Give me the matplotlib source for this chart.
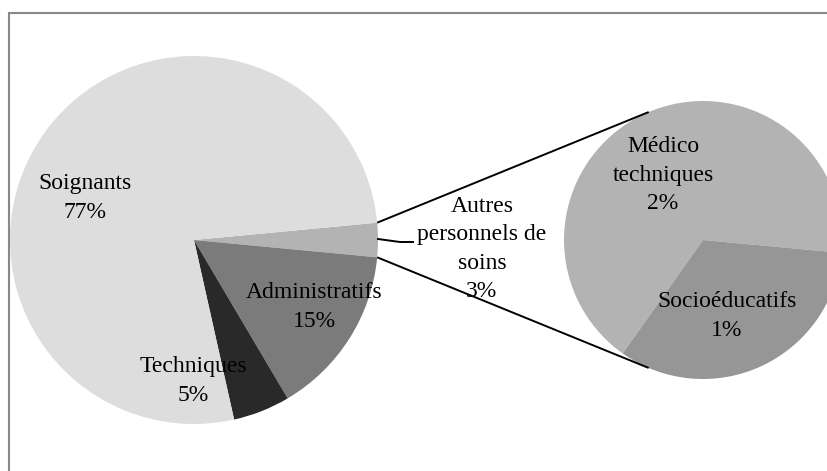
import matplotlib.pyplot as plt
import numpy as np
from matplotlib.patches import Rectangle

# main pie: job categories (share of staff, %)
main_labels = ["Autres\npersonnels de\nsoins", "Administratifs", "Techniques", "Soignants"]
main_values = [3, 15, 5, 77]
main_colors = ["#b3b3b3", "#7b7b7b", "#292929", "#dddddd"]

# secondary pie: breakdown of "Autres personnels de soins"
sub_labels = ["Médico\ntechniques", "Socioéducatifs"]
sub_values = [2, 1]
sub_colors = ["#b3b3b3", "#969696"]

W, H = 828, 471
plt.rcParams["font.family"] = ["Liberation Serif", "DejaVu Serif"]

fig = plt.figure(figsize=(W / 100, H / 100), dpi=100)
ax = fig.add_axes([0, 0, 1, 1])

c1, r1 = (194, H - 240), 184
c2, r2 = (703, H - 240), 139

# the "autres" slice is centred on the right-hand side
half = main_values[0] / sum(main_values) * 360 / 2
w1, _ = ax.pie(main_values, colors=main_colors, startangle=half,
               counterclock=False, center=c1, radius=r1,
               wedgeprops=dict(linewidth=0))

medico_share = sub_values[0] / sum(sub_values) * 360
w2, _ = ax.pie(sub_values, colors=sub_colors, startangle=-5.3 + medico_share,
               counterclock=False, center=c2, radius=r2,
               wedgeprops=dict(linewidth=0))

# connector lines between the two pies
a_link = np.deg2rad(113)
for s in (1, -1):
    p1 = (c1[0] + r1 * np.cos(np.deg2rad(half)), c1[1] + s * r1 * np.sin(np.deg2rad(half)))
    p2 = (c2[0] + r2 * np.cos(a_link), c2[1] + s * r2 * np.sin(a_link))
    ax.plot([p1[0], p2[0]], [p1[1], p2[1]], color="black", lw=1.4,
            solid_capstyle="butt")

# leader line for the "autres" label
ax.plot([c1[0] + r1, 400, 413], [H - 239, H - 242, H - 242], color="black", lw=1.4)

fs = 17
ls = 1.45
txt = dict(ha="center", va="center", fontsize=fs, linespacing=ls)
main_pos = [(482, 249), (314, 307), (193, 381), (85, 198)]
for lab, v, (x, y) in zip(main_labels, main_values, main_pos):
    ax.text(x, H - y, f"{lab}\n{v}%", **txt)

sub_pos = [(663, 175), (727, 316)]
for lab, v, (x, y) in zip(sub_labels, sub_values, sub_pos):
    ax.text(x, H - y, f"{lab}\n{v}%", **txt)

ax.set_xlim(0, W)
ax.set_ylim(0, H)
ax.set_aspect("equal")
ax.axis("off")

# chart area border (runs off the right and bottom edges)
fig.patches.append(Rectangle((9, -20), W + 20, H - 13 + 20, transform=None,
                             fill=False, edgecolor="#888888", lw=1.5))

fig.savefig("out.png", dpi=100)
